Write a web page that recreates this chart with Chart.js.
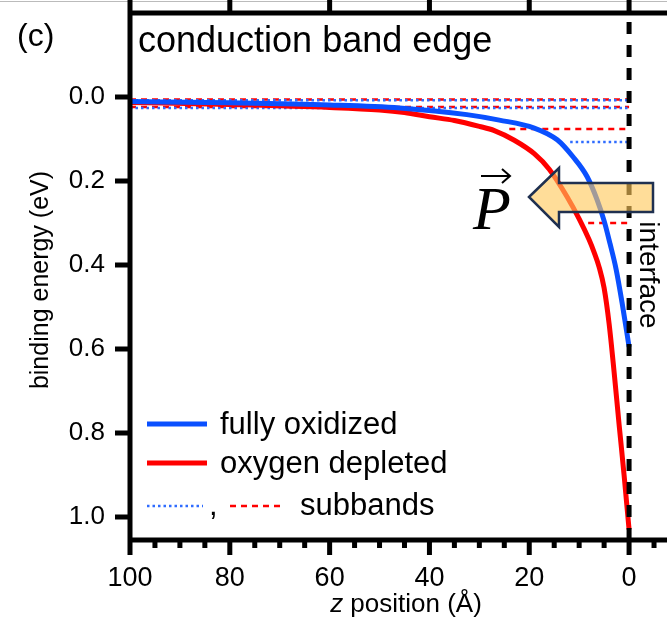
<!DOCTYPE html>
<html>
<head>
<meta charset="utf-8">
<script src="https://cdn.jsdelivr.net/npm/chart.js@4.4.1/dist/chart.umd.min.js"></script>
<style>
  html, body { margin: 0; padding: 0; background: #fff; }
  #wrap { width: 667px; height: 621px; position: relative; }
</style>
</head>
<body>
<div id="wrap"><canvas id="chart"></canvas></div>
<script>
// fully oxidized: z position (Å) → binding energy (eV)
const Z_OXIDIZED = [100, 80, 60, 46, 32.5, 26, 19, 14.4, 11.2, 8.4, 6.4, 5, 3.8, 2.6, 1.4, 0];
const E_OXIDIZED = [0.011, 0.014, 0.019, 0.026, 0.042, 0.055, 0.074, 0.102, 0.143, 0.19, 0.245, 0.295, 0.35, 0.41, 0.49, 0.595];
// oxygen depleted
const Z_DEPLETED = [100, 80, 60, 50, 45, 40, 35, 30, 27, 23, 19, 16, 12.4, 10, 8, 7, 6, 5, 4, 3, 2, 1, 0];
const E_DEPLETED = [0.013, 0.018, 0.025, 0.031, 0.037, 0.047, 0.056, 0.07, 0.08, 0.103, 0.135, 0.172, 0.238, 0.29, 0.34, 0.37, 0.405, 0.455, 0.54, 0.655, 0.78, 0.90, 1.03];

// subband levels (eV) and where each one starts (Å), all end at z = 0
const BLUE_SUB_E     = [0.008, 0.026, 0.107];
const BLUE_SUB_START = [100, 100, 11.8];
const RED_SUB_E      = [0.006, 0.024, 0.076, 0.30];
const RED_SUB_START  = [100, 100, 24, 8.2];

const X_MAJOR = [100, 80, 60, 40, 20, 0];
const X_MINOR = [95, 90, 85, 75, 70, 65, 55, 50, 45, 35, 30, 25, 15, 10, 5, -5];
const Y_TICKS = [0, 0.2, 0.4, 0.6, 0.8, 1.0];

const BLUE = "#0a50ff";
const RED  = "#ff0000";
const SANS = "'Liberation Sans', Arial, sans-serif";

function pts(xs, ys) { return xs.map((v, i) => ({ x: v, y: ys[i] })); }

const datasets = [
  { // interface marker
    data: [{ x: 0, y: -0.2 }, { x: 0, y: 1.055 }],
    borderColor: "#000", borderWidth: 5, borderDash: [12, 11], borderDashOffset: 14,
  },
  { data: pts(Z_OXIDIZED, E_OXIDIZED), borderColor: BLUE, borderWidth: 5, cubicInterpolationMode: "monotone" },
  { data: pts(Z_DEPLETED, E_DEPLETED), borderColor: RED,  borderWidth: 5, cubicInterpolationMode: "monotone" },
];
BLUE_SUB_E.forEach((e, i) => datasets.push({
  data: [{ x: BLUE_SUB_START[i], y: e }, { x: 0, y: e }],
  borderColor: "#2f6cff", borderWidth: 2.5, borderDash: [2.5, 3],
}));
RED_SUB_E.forEach((e, i) => datasets.push({
  data: [{ x: RED_SUB_START[i], y: e }, { x: 0, y: e }],
  borderColor: RED, borderWidth: 2.5, borderDash: [6, 5],
}));
datasets.forEach(d => { d.pointRadius = 0; d.fill = false; });

// ── Frame, ticks, texts, legend and the P arrow ──────────────────────────
const decor = {
  id: "decor",
  afterDatasetsDraw(chart) {
    const { ctx, chartArea: a, scales: { x, y } } = chart;
    ctx.save();

    // faint outer edge at the very top
    ctx.strokeStyle = "#bbb"; ctx.lineWidth = 1;
    ctx.beginPath(); ctx.moveTo(0, 1.5); ctx.lineTo(667, 1.5); ctx.stroke();

    ctx.strokeStyle = "#000"; ctx.lineWidth = 5; ctx.lineCap = "butt";
    ctx.beginPath();
    ctx.moveTo(a.left, a.top - 2.5); ctx.lineTo(a.left, a.bottom + 2.5);
    ctx.moveTo(a.left - 2.5, a.bottom); ctx.lineTo(a.right, a.bottom);
    ctx.moveTo(a.left - 2.5, a.top); ctx.lineTo(a.right, a.top);
    Y_TICKS.forEach(v => {
      const p = y.getPixelForValue(v);
      ctx.moveTo(a.left - 15, p); ctx.lineTo(a.left, p);
    });
    X_MAJOR.forEach(v => {
      const p = x.getPixelForValue(v);
      ctx.moveTo(p, a.bottom); ctx.lineTo(p, a.bottom + 15);
      ctx.moveTo(p, a.top); ctx.lineTo(p, a.top - 13);
    });
    X_MINOR.forEach(v => {
      const p = x.getPixelForValue(v);
      ctx.moveTo(p, a.bottom); ctx.lineTo(p, a.bottom + 8);
    });
    ctx.stroke();

    ctx.fillStyle = "#000";
    ctx.textBaseline = "alphabetic";
    ctx.textAlign = "left";
    ctx.font = `32px ${SANS}`;
    ctx.fillText("(c)", 17, 46);
    ctx.font = `36px ${SANS}`;
    ctx.fillText("conduction band edge", 138, 52);

    // axis titles
    ctx.save();
    ctx.translate(48, 280); ctx.rotate(-Math.PI / 2);
    ctx.textAlign = "center"; ctx.font = `25px ${SANS}`;
    ctx.fillText("binding energy (eV)", 0, 0);
    ctx.restore();

    ctx.font = `italic 26px ${SANS}`;
    const wz = ctx.measureText("z").width;
    ctx.font = `26px ${SANS}`;
    const rest = " position (Å)";
    const wr = ctx.measureText(rest).width;
    const x0 = 406 - (wz + wr) / 2;
    ctx.font = `italic 26px ${SANS}`;
    ctx.fillText("z", x0, 612);
    ctx.font = `26px ${SANS}`;
    ctx.fillText(rest, x0 + wz, 612);

    // interface label
    ctx.save();
    ctx.translate(640, 275); ctx.rotate(Math.PI / 2);
    ctx.textAlign = "center"; ctx.font = `28px ${SANS}`;
    ctx.fillText("interface", 0, 0);
    ctx.restore();

    // legend
    ctx.lineWidth = 5;
    ctx.strokeStyle = BLUE;
    ctx.beginPath(); ctx.moveTo(147, 424); ctx.lineTo(207, 424); ctx.stroke();
    ctx.strokeStyle = RED;
    ctx.beginPath(); ctx.moveTo(147, 463); ctx.lineTo(207, 463); ctx.stroke();
    ctx.lineWidth = 2.5;
    ctx.setLineDash([2.5, 3]); ctx.strokeStyle = "#2f6cff";
    ctx.beginPath(); ctx.moveTo(147, 506); ctx.lineTo(203, 506); ctx.stroke();
    ctx.setLineDash([6, 5]); ctx.strokeStyle = RED;
    ctx.beginPath(); ctx.moveTo(230, 506); ctx.lineTo(284, 506); ctx.stroke();
    ctx.setLineDash([]);
    ctx.font = `31px ${SANS}`;
    ctx.fillText("fully oxidized", 220, 434);
    ctx.fillText("oxygen depleted", 220, 473);
    ctx.fillText(",", 209, 515);
    ctx.fillText("subbands", 300, 515);

    // polarization arrow
    ctx.beginPath();
    ctx.moveTo(529, 197);
    ctx.lineTo(559, 168); ctx.lineTo(559, 183); ctx.lineTo(653, 183);
    ctx.lineTo(653, 212); ctx.lineTo(559, 212); ctx.lineTo(559, 227);
    ctx.closePath();
    ctx.fillStyle = "rgba(255, 200, 90, 0.62)";
    ctx.fill();
    ctx.strokeStyle = "#1f3050"; ctx.lineWidth = 2.5; ctx.lineJoin = "miter";
    ctx.stroke();

    ctx.fillStyle = "#000";
    ctx.font = "italic 62px 'Liberation Serif', 'Times New Roman', serif";
    ctx.fillText("P", 473, 229);
    ctx.strokeStyle = "#000"; ctx.lineWidth = 2;
    ctx.beginPath();
    ctx.moveTo(481, 176); ctx.lineTo(510, 176);
    ctx.moveTo(502, 169); ctx.lineTo(510, 176); ctx.lineTo(502, 183);
    ctx.stroke();

    ctx.restore();
  },
};

function noEdgePad(s) { s.paddingTop = 0; s.paddingBottom = 0; s.paddingLeft = 0; s.paddingRight = 0; }

new Chart(document.getElementById("chart"), {
  type: "line",
  data: { datasets },
  options: {
    responsive: true,
    maintainAspectRatio: false,
    animation: false,
    events: [],
    layout: { padding: { top: 13, right: 0, left: 0, bottom: 0 } },
    plugins: { legend: { display: false }, tooltip: { enabled: false } },
    scales: {
      x: {
        type: "linear", reverse: true, min: -7.6, max: 100,
        afterBuildTicks: s => { s.ticks = X_MAJOR.map(v => ({ value: v })); },
        afterFit: s => { s.height = 81; noEdgePad(s); },
        grid: { display: true, drawOnChartArea: false, drawTicks: true, tickLength: 15, color: "rgba(0,0,0,0)", tickColor: "rgba(0,0,0,0)" },
        border: { display: false },
        ticks: { color: "#000", padding: 7, maxRotation: 0, autoSkip: false,
                 font: { family: SANS, size: 27 }, callback: v => String(v) },
      },
      y: {
        type: "linear", reverse: true, min: -0.2, max: 1.055,
        afterBuildTicks: s => { s.ticks = Y_TICKS.map(v => ({ value: v })); },
        afterFit: s => { s.width = 130; noEdgePad(s); },
        grid: { display: true, drawOnChartArea: false, drawTicks: true, tickLength: 15, color: "rgba(0,0,0,0)", tickColor: "rgba(0,0,0,0)" },
        border: { display: false },
        ticks: { color: "#000", padding: 10, autoSkip: false,
                 font: { family: SANS, size: 26 }, callback: v => v.toFixed(1) },
      },
    },
  },
  plugins: [decor],
});
</script>
</body>
</html>
